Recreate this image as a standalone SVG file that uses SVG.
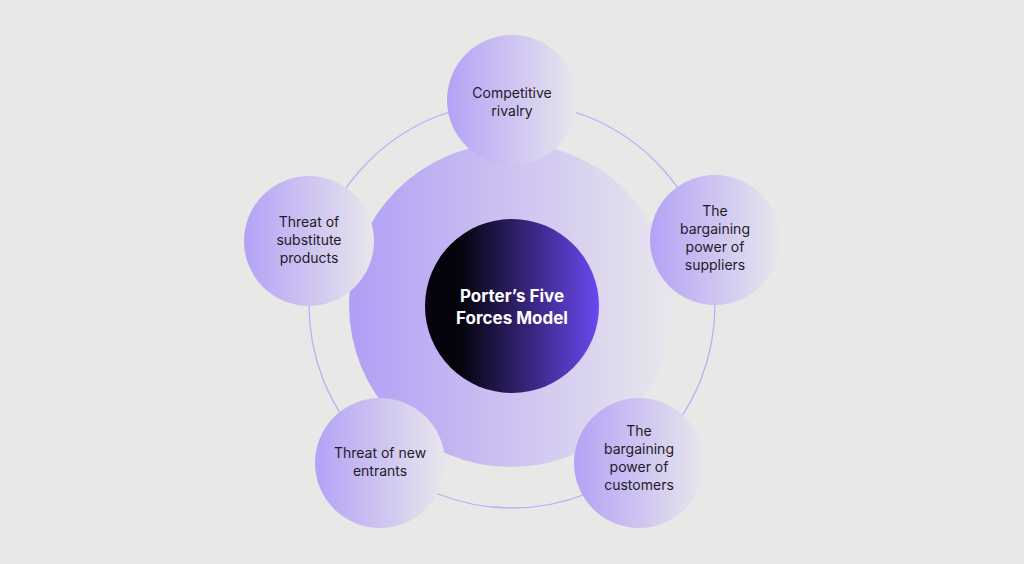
<svg xmlns="http://www.w3.org/2000/svg" width="1024" height="564" viewBox="0 0 1024 564">
<defs>
<linearGradient id="g1" x1="0" x2="1" y1="0" y2="0"><stop offset="0" stop-color="#b19ef6"/><stop offset="1" stop-color="#e9e7ec"/></linearGradient>
<linearGradient id="g2" x1="0" x2="1" y1="0" y2="0"><stop offset="0" stop-color="#b4a2f6"/><stop offset="1" stop-color="#e8e6ec"/></linearGradient>
<linearGradient id="g3" x1="0" x2="1" y1="0" y2="0"><stop offset="0.2" stop-color="#05030c"/><stop offset="1" stop-color="#6a48f0"/></linearGradient>
<style>
.s{fill:url(#g2)}
.t{font-family:Inter,"Noto Sans",sans-serif;font-size:14px;fill:#1d1b2a;text-anchor:middle}
.c{font-family:Inter,"Noto Sans",sans-serif;font-size:17px;font-weight:700;fill:#fff;text-anchor:middle}
</style>
</defs>
<rect width="1024" height="564" fill="#e8e8e6"/>
<g id="connectors"><circle cx="512" cy="305" r="203" fill="none" stroke="#bcaef5" stroke-width="1.3"/></g>
<g id="hub"><circle cx="511" cy="305" r="162" fill="url(#g1)"/></g>
<g id="center"><circle cx="512" cy="306" r="87" fill="url(#g3)"/>
<text class="c" x="512" y="302">Porter’s Five</text><text class="c" x="512" y="324">Forces Model</text></g>
<g id="rivalry"><circle class="s" cx="512" cy="100" r="65"/>
<text class="t" x="512" y="98">Competitive</text><text class="t" x="512" y="116">rivalry</text></g>
<g id="suppliers"><circle class="s" cx="715" cy="240" r="65"/>
<text class="t" x="715" y="216">The</text><text class="t" x="715" y="234">bargaining</text><text class="t" x="715" y="252">power of</text><text class="t" x="715" y="270">suppliers</text></g>
<g id="customers"><circle class="s" cx="639" cy="463" r="65"/>
<text class="t" x="639" y="436">The</text><text class="t" x="639" y="454">bargaining</text><text class="t" x="639" y="472">power of</text><text class="t" x="639" y="490">customers</text></g>
<g id="entrants"><circle class="s" cx="380" cy="463" r="65"/>
<text class="t" x="380" y="458">Threat of new</text><text class="t" x="380" y="476">entrants</text></g>
<g id="substitutes"><circle class="s" cx="309" cy="241" r="65"/>
<text class="t" x="309" y="227">Threat of</text><text class="t" x="309" y="245">substitute</text><text class="t" x="309" y="263">products</text></g>
</svg>
